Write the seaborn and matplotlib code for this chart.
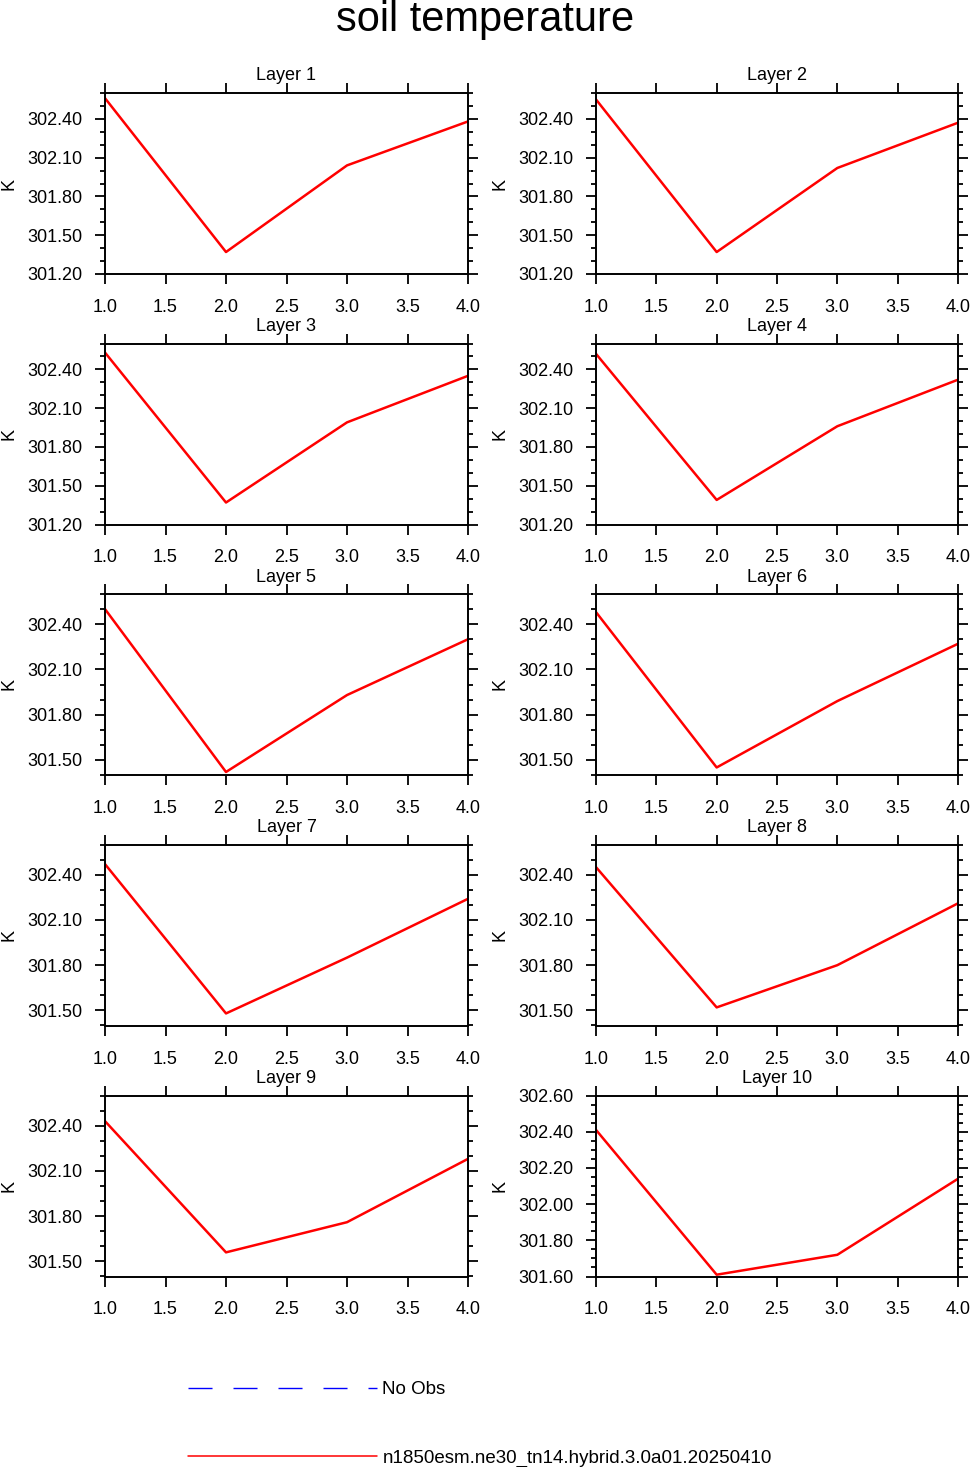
import numpy as np
import pandas as pd
import seaborn as sns
import matplotlib.pyplot as plt
from matplotlib.lines import Line2D
from matplotlib.ticker import MultipleLocator, FormatStrFormatter

sns.set_style("ticks")
plt.rcParams['font.family'] = ['Liberation Sans', 'DejaVu Sans']
plt.rcParams.update({'text.color': 'black', 'axes.labelcolor': 'black',
                     'xtick.color': 'black', 'ytick.color': 'black',
                     'axes.edgecolor': 'black'})

# values
x_vals = [1.0, 2.0, 3.0, 4.0]
layer_names = ['Layer %d' % i for i in range(1, 11)]
layer1 = [302.56, 301.37, 302.04, 302.38]
layer2 = [302.55, 301.37, 302.02, 302.37]
layer3 = [302.53, 301.37, 301.99, 302.35]
layer4 = [302.52, 301.39, 301.96, 302.32]
layer5 = [302.50, 301.42, 301.93, 302.30]
layer6 = [302.48, 301.45, 301.89, 302.27]
layer7 = [302.47, 301.48, 301.85, 302.24]
layer8 = [302.45, 301.52, 301.80, 302.21]
layer9 = [302.43, 301.56, 301.76, 302.18]
layer10 = [302.41, 301.61, 301.72, 302.14]
all_layers = [layer1, layer2, layer3, layer4, layer5,
              layer6, layer7, layer8, layer9, layer10]

# axis ranges per panel (ymin, ymax, major step, minor step, first major)
y_ranges = [(301.2, 302.6, 0.3, 0.1, 301.2)] * 4 + \
           [(301.40, 302.60, 0.3, 0.1, 301.5)] * 5 + \
           [(301.60, 302.60, 0.2, 0.05, 301.6)]

case_name = 'n1850esm.ne30_tn14.hybrid.3.0a01.20250410'
obs_name = 'No Obs'

W, H = 971, 1467
fig = plt.figure(figsize=(W / 100, H / 100), dpi=100)

col_left = [105, 596]
col_w = [363, 362]
row_top = [93, 343.5, 594, 844.5, 1095.5]
row_h = 181

for i, vals in enumerate(all_layers):
    r, c = i // 2, i % 2
    ax = fig.add_axes([col_left[c] / W, 1 - (row_top[r] + row_h) / H,
                       col_w[c] / W, row_h / H])
    df = pd.DataFrame({'x': x_vals, 'T': vals})
    sns.lineplot(data=df, x='x', y='T', ax=ax, color='red', lw=1.8,
                 estimator=None)
    ymin, ymax, step, minor, first = y_ranges[i]
    ax.set_xlim(1.0, 4.0)
    ax.set_ylim(ymin, ymax)
    ax.set_yticks(np.arange(first, ymax + 1e-6, step))
    ax.yaxis.set_minor_locator(MultipleLocator(minor))
    ax.xaxis.set_major_locator(MultipleLocator(0.5))
    ax.xaxis.set_major_formatter(FormatStrFormatter('%.1f'))
    ax.yaxis.set_major_formatter(FormatStrFormatter('%.2f'))
    ax.tick_params(which='both', direction='out', top=True, right=True,
                   width=1.3, labelsize=13, pad=9)
    ax.tick_params(axis='x', pad=11)
    ax.tick_params(which='major', length=7)
    ax.tick_params(which='minor', length=3.6)
    for s in ax.spines.values():
        s.set_linewidth(1.4)
    ax.set_xlabel('')
    ax.set_ylabel('K', fontsize=13)
    ax.yaxis.set_label_coords(-0.241, 0.5)
    ax.set_title(layer_names[i], fontsize=13, y=1.0, pad=9)

fig.text(0.5, 1 - 31 / H, 'soil temperature', ha='center', va='baseline',
         fontsize=30)

handles = [Line2D([], [], color='blue', lw=1.0, linestyle=(0, (17.3, 15.1))),
           Line2D([], [], color='red', lw=1.1)]
fig.legend(handles, [obs_name, case_name], loc='upper left',
           bbox_to_anchor=(188 / W, 1 - 1381 / H), frameon=False,
           fontsize=13.5, handlelength=10.1, handletextpad=0.27,
           labelspacing=2.76, borderpad=0, borderaxespad=0)

fig.savefig('out.png', dpi=100)
